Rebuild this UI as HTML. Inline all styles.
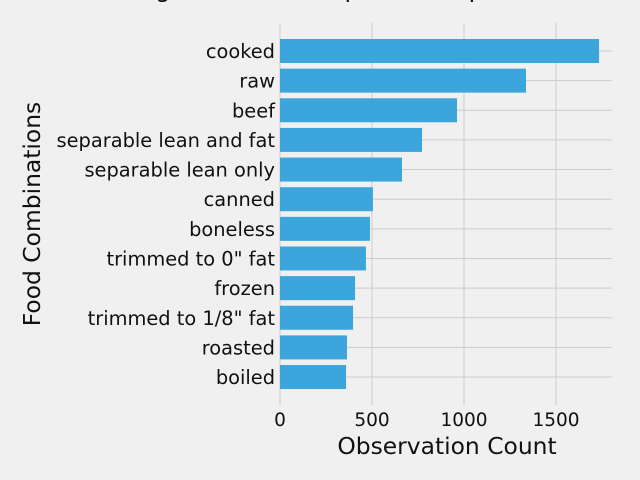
<!DOCTYPE html>
<html><head><meta charset="utf-8"><style>
body{margin:0;background:#f0f0f0;}
svg{display:block;font-family:"DejaVu Sans","Liberation Sans",sans-serif;}
</style></head><body>
<svg id="chart" width="640" height="480" viewBox="0 0 640 480">
<rect width="640" height="480" fill="#f0f0f0"/>
<text x="420" y="-3" font-size="24" text-anchor="middle" fill="#111">Single-Word Descriptors in Top Food Combinations</text>
<g id="grid"></g><g id="bars"></g><g id="labels"></g>
<text x="447" y="454" font-size="23.4" text-anchor="middle" fill="#111">Observation Count</text>
<text transform="translate(40,214) rotate(-90)" font-size="23.4" text-anchor="middle" fill="#111">Food Combinations</text>
</svg>
<script>
const categories=["cooked","raw","beef","separable lean and fat","separable lean only","canned","boneless","trimmed to 0\" fat","frozen","trimmed to 1/8\" fat","roasted","boiled"];
const counts=[1734,1337,962,772,663,505,489,467,408,397,364,359];
const xTicks=[0,500,1000,1500];
const NS="http://www.w3.org/2000/svg";
const x0=280,kx=0.184,yTop=51,step=29.64,bh=24,right=612;
const X=v=>x0+v*kx, Y=i=>yTop+i*step;
function mk(t,a,p){const e=document.createElementNS(NS,t);for(const k in a)e.setAttribute(k,a[k]);p.appendChild(e);return e;}
const g=document.getElementById('grid'),b=document.getElementById('bars'),l=document.getElementById('labels');
xTicks.forEach(v=>{
  const ln=mk('line',{x1:X(v),x2:X(v),y1:23,y2:405,stroke:'#cbcbcb','stroke-width':1},g);
  
  
  const t=mk('text',{x:X(v),y:426,'font-size':18.5,'text-anchor':'middle',fill:'#111'},l);
  t.textContent=v;
  
  
});
categories.forEach((c,i)=>{
  const ln=mk('line',{x1:x0,x2:right,y1:Y(i),y2:Y(i),stroke:'#cbcbcb','stroke-width':1},g);
  
  
  const r=mk('rect',{x:x0,y:Y(i)-bh/2,width:X(counts[i])-x0,height:bh,fill:'#3ca5dc'},b);
  
  
  const t=mk('text',{x:275,y:Y(i)+7,'font-size':19.4,'text-anchor':'end',fill:'#111'},l);
  t.textContent=c;
  
  
});
</script>
</body></html>
